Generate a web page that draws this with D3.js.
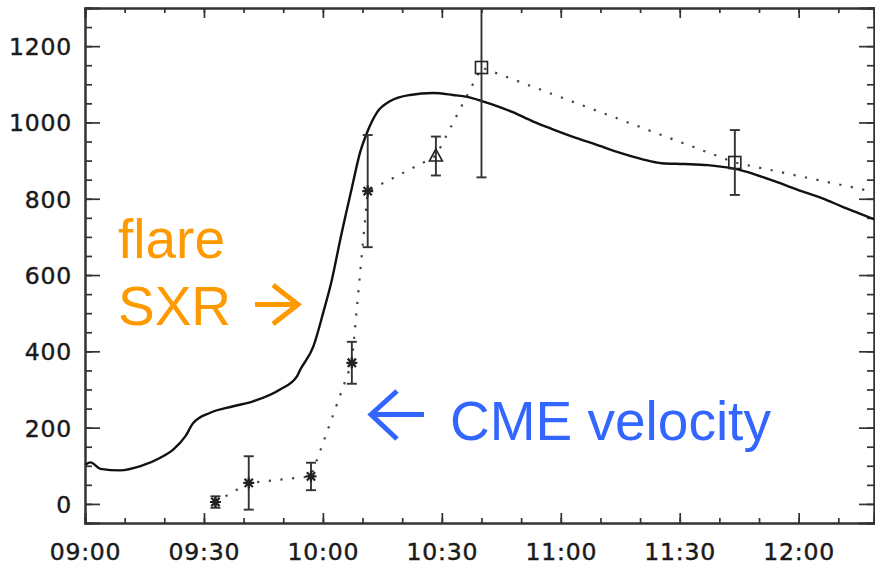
<!DOCTYPE html>
<html>
<head>
<meta charset="utf-8">
<script src="https://cdn.jsdelivr.net/npm/d3@7"></script>
<style>
  html, body { margin: 0; padding: 0; background: #fff; }
  svg { display: block; }
</style>
</head>
<body>
<svg id="chart" width="875" height="566"></svg>
<script>
// ---- Data (times in minutes after 09:00) ----
const sxrMinutes = [0.1, 1.4, 3.9, 8.9, 14.0, 19.0, 22.3, 25.3, 27.3, 31.6, 37.4, 42.4, 49.2, 53.5, 54.3,
  57.6, 60.1, 62.3, 64.4, 67.4, 69.4, 71.2, 73.7, 77.0, 82.0, 87.8, 92.8, 96.4, 100.1, 103.9, 107.9,
  112.9, 118.0, 124.8, 128.6, 134.4, 140.4, 145.5, 151.3, 157.1, 161.3, 164.6, 168.9, 173.9, 180.7,
  186.5, 190.8, 195.9, 199.1];
const sxrValues = [103, 109, 92, 88, 99, 121, 143, 177, 212, 239, 256, 269, 300, 335, 352,
  413, 502, 589, 694, 833, 922, 975, 1027, 1056, 1072, 1077, 1072, 1067, 1056, 1043, 1027,
  1003, 982, 956, 943, 922, 904, 893, 891, 888, 883, 877, 864, 846, 820,
  799, 780, 759, 746];

const cmeMinutes = [32.9, 41.3, 57.0, 67.3, 71.3, 88.5, 100.0, 163.9, 215.0];
const cmeValues  = [5, 55, 72, 370, 820, 912, 1144, 895, 783];
const cmeErrors  = [15, 70, 36, 55, 147, 51, 288, 85, 80];
const cmeSymbols = ["asterisk", "asterisk", "asterisk", "asterisk", "asterisk", "triangle", "square", "square", "square"];

const xTickLabels = ["09:00", "09:30", "10:00", "10:30", "11:00", "11:30", "12:00"];
const yTickValues = [0, 200, 400, 600, 800, 1000, 1200];

// ---- Layout ----
const svg = d3.select("#chart");
const mLeft = 85, mRight = 874, mTop = 8, mBottom = 523;
const base = new Date(2000, 0, 1, 9, 0, 0);
const toDate = m => new Date(base.getTime() + m * 60000);

const x = d3.scaleTime().domain([toDate(0), toDate(199)]).range([mLeft, mRight]);
const y = d3.scaleLinear().domain([-50, 1300]).range([mBottom, mTop]);

const parseHM = d3.timeParse("%H:%M");
const xMajor = xTickLabels.map(s => { const p = parseHM(s); return toDate((p.getHours() - 9) * 60 + p.getMinutes()); });
const xMinor = d3.range(0, 200, 10).map(toDate);
const yMinor = d3.range(-50, 1301, 50);

svg.append("defs").append("clipPath").attr("id", "plotclip")
  .append("rect").attr("x", mLeft).attr("y", mTop).attr("width", mRight - mLeft).attr("height", mBottom - mTop);

const axisColor = "#333";
const fmt = d3.timeFormat("%H:%M");

const gB = svg.append("g").attr("transform", `translate(0,${mBottom})`)
  .call(d3.axisBottom(x).tickValues(xMinor).tickSize(-5).tickFormat(""));
const gB2 = svg.append("g").attr("transform", `translate(0,${mBottom})`)
  .call(d3.axisBottom(x).tickValues(xMajor).tickSize(-10).tickPadding(20).tickFormat(fmt));
const gT = svg.append("g").attr("transform", `translate(0,${mTop})`)
  .call(d3.axisTop(x).tickValues(xMinor).tickSize(-5).tickFormat(""));
const gT2 = svg.append("g").attr("transform", `translate(0,${mTop})`)
  .call(d3.axisTop(x).tickValues(xMajor).tickSize(-10).tickFormat(""));
const gL = svg.append("g").attr("transform", `translate(${mLeft},0)`)
  .call(d3.axisLeft(y).tickValues(yMinor).tickSize(-7).tickFormat(""));
const gL2 = svg.append("g").attr("transform", `translate(${mLeft},0)`)
  .call(d3.axisLeft(y).tickValues(yTickValues).tickSize(-15).tickPadding(13).tickFormat(d3.format("d")));
const gR = svg.append("g").attr("transform", `translate(${mRight},0)`)
  .call(d3.axisRight(y).tickValues(yMinor).tickSize(-7).tickFormat(""));
const gR2 = svg.append("g").attr("transform", `translate(${mRight},0)`)
  .call(d3.axisRight(y).tickValues(yTickValues).tickSize(-15).tickFormat(""));

[gB, gB2, gT, gT2, gL, gL2, gR, gR2].forEach(g => {
  g.select(".domain").attr("stroke", axisColor).attr("stroke-width", 2);
  g.selectAll(".tick line").attr("stroke", axisColor).attr("stroke-width", 1.7);
  g.selectAll("text").attr("fill", "#1a1a1a").attr("font-family", "DejaVu Sans, sans-serif")
    .attr("font-size", 23.5).attr("letter-spacing", "0.8px")
    .attr("stroke", "#1a1a1a").attr("stroke-width", 0.45);
});
gL2.selectAll("text").attr("dy", "0.36em");

const plot = svg.append("g").attr("clip-path", "url(#plotclip)");

// SXR curve
const sxrData = sxrMinutes.map((m, i) => ({ t: toDate(m), v: sxrValues[i] }));
plot.append("path").datum(sxrData)
  .attr("fill", "none").attr("stroke", "#111").attr("stroke-width", 2.4)
  .attr("stroke-linejoin", "round")
  .attr("d", d3.line().x(d => x(d.t)).y(d => y(d.v)).curve(d3.curveMonotoneX));

// CME dotted line
const cmeData = cmeMinutes.map((m, i) => ({ t: toDate(m), v: cmeValues[i], e: cmeErrors[i], s: cmeSymbols[i] }));
plot.append("path").datum(cmeData)
  .attr("fill", "none").attr("stroke", "#444").attr("stroke-width", 2.2)
  .attr("stroke-dasharray", "2.2,9.5")
  .attr("d", d3.line().x(d => x(d.t)).y(d => y(d.v)));

// Error bars
const eb = plot.append("g").attr("stroke", "#333").attr("stroke-width", 1.9).attr("fill", "none");
cmeData.forEach(d => {
  const cx = x(d.t), y1 = y(d.v + d.e), y2 = y(d.v - d.e);
  eb.append("line").attr("x1", cx).attr("x2", cx).attr("y1", y1).attr("y2", y2);
  eb.append("line").attr("x1", cx - 5).attr("x2", cx + 5).attr("y1", y1).attr("y2", y1);
  eb.append("line").attr("x1", cx - 5).attr("x2", cx + 5).attr("y1", y2).attr("y2", y2);
});

// Markers
const mk = plot.append("g").attr("stroke", "#222").attr("stroke-width", 1.6).attr("fill", "none");
cmeData.forEach(d => {
  const cx = x(d.t), cy = y(d.v);
  if (d.s === "asterisk") {
    const r = 5.5;
    mk.append("path").attr("d",
      `M${cx - r},${cy}L${cx + r},${cy}M${cx},${cy - r}L${cx},${cy + r}` +
      `M${cx - r * 0.75},${cy - r * 0.75}L${cx + r * 0.75},${cy + r * 0.75}` +
      `M${cx - r * 0.75},${cy + r * 0.75}L${cx + r * 0.75},${cy - r * 0.75}`)
      .attr("stroke-width", 2.2);
  } else if (d.s === "triangle") {
    mk.append("path").attr("d", `M${cx},${cy - 7}L${cx + 6.5},${cy + 5}L${cx - 6.5},${cy + 5}Z`);
  } else {
    mk.append("rect").attr("x", cx - 6).attr("y", cy - 6).attr("width", 12).attr("height", 12);
  }
});

// Annotations
const orange = "#ff9900", blue = "#3366ff";
svg.append("text").attr("x", 118).attr("y", 258).text("flare")
  .attr("fill", orange).attr("font-family", "Liberation Sans, Arial, sans-serif").attr("font-size", 55);
svg.append("text").attr("x", 118).attr("y", 325).text("SXR")
  .attr("fill", orange).attr("font-family", "Liberation Sans, Arial, sans-serif").attr("font-size", 55);
svg.append("path").attr("d", "M255,304.5L298,304.5M273,285L298,304.5L273,324")
  .attr("stroke", orange).attr("stroke-width", 5).attr("fill", "none").attr("stroke-linejoin", "miter");
svg.append("path").attr("d", "M424,414.5L371,414.5M397,391L371,414.5L397,439")
  .attr("stroke", blue).attr("stroke-width", 5).attr("fill", "none").attr("stroke-linejoin", "miter");
svg.append("text").attr("x", 450).attr("y", 440).text("CME velocity")
  .attr("fill", blue).attr("font-family", "Liberation Sans, Arial, sans-serif").attr("font-size", 55);
</script>
</body>
</html>
